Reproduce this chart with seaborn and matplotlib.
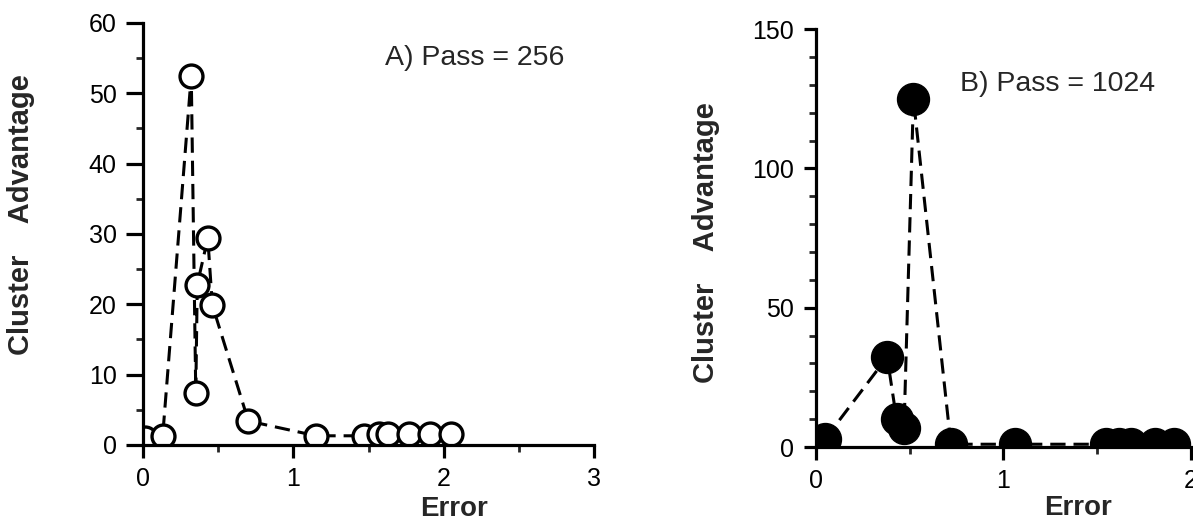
import matplotlib
matplotlib.use("Agg")
import matplotlib.pyplot as plt
import seaborn as sns
import pandas as pd
from matplotlib.ticker import MultipleLocator

# Panel A data (Pass = 256), open circles
err_a = [0.01, 0.13, 0.32, 0.35, 0.36, 0.43, 0.46, 0.70, 1.15, 1.47, 1.57, 1.63, 1.77, 1.91, 2.05]
adv_a = [1.0, 1.3, 52.5, 7.4, 22.8, 29.4, 19.9, 3.4, 1.3, 1.3, 1.5, 1.5, 1.5, 1.5, 1.5]

# Panel B data (Pass = 1024), filled circles
err_b = [0.05, 0.38, 0.43, 0.47, 0.52, 0.72, 1.06, 1.55, 1.62, 1.68, 1.81, 1.91]
adv_b = [3.0, 32.3, 10.0, 7.0, 125.0, 1.0, 1.0, 1.0, 1.0, 1.0, 1.0, 1.0]

title_a = "A) Pass = 256"
title_b = "B) Pass = 1024"
xlabel = "Error"
ylabel = "Cluster    Advantage"

sns.set_style("ticks")
plt.rcParams['font.family'] = ['Liberation Sans', 'DejaVu Sans']

fig = plt.figure(figsize=(11.93, 5.21), dpi=100)
ax1 = fig.add_axes([0.120, 0.146, 0.378, 0.810])
ax2 = fig.add_axes([0.684, 0.142, 0.314, 0.802])

dash = (0, (5, 2.6))
df_a = pd.DataFrame({"Error": err_a, "Adv": adv_a})
df_b = pd.DataFrame({"Error": err_b, "Adv": adv_b})

sns.lineplot(data=df_a, x="Error", y="Adv", ax=ax1, sort=False, estimator=None,
             color="black", linewidth=2.2, linestyle=dash, marker="o",
             markersize=16.5, markerfacecolor="white", markeredgecolor="black",
             markeredgewidth=2.4)
sns.lineplot(data=df_b, x="Error", y="Adv", ax=ax2, sort=False, estimator=None,
             color="black", linewidth=2.2, linestyle=dash, marker="o",
             markersize=23, markerfacecolor="black", markeredgecolor="black",
             markeredgewidth=1.0)

for ax in (ax1, ax2):
    for ln in ax.lines:
        ln.set_clip_on(True)
        ln.set_clip_path(ax.patch)

ax1.set_xlim(0, 3)
ax1.set_ylim(0, 60)
ax1.xaxis.set_major_locator(MultipleLocator(1))
ax1.xaxis.set_minor_locator(MultipleLocator(0.5))
ax1.yaxis.set_major_locator(MultipleLocator(10))
ax1.yaxis.set_minor_locator(MultipleLocator(5))

ax2.set_xlim(0, 2)
ax2.set_ylim(0, 150)
ax2.xaxis.set_major_locator(MultipleLocator(1))
ax2.xaxis.set_minor_locator(MultipleLocator(0.5))
ax2.yaxis.set_major_locator(MultipleLocator(50))
ax2.yaxis.set_minor_locator(MultipleLocator(10))

for ax in (ax1, ax2):
    for s in ("top", "right"):
        ax.spines[s].set_visible(False)
    for s in ("left", "bottom"):
        ax.spines[s].set_linewidth(2.3)
        ax.spines[s].set_color("black")
    ax.tick_params(which="major", direction="out", width=2.3,
                   labelsize=18, colors="black")
    ax.tick_params(axis="x", which="major", length=9, pad=7)
    ax.tick_params(which="minor", direction="out", length=5, width=2.0)
    ax.set_xlabel(xlabel, fontsize=20, fontweight="bold")
    ax.set_ylabel(ylabel, fontsize=21, fontweight="bold")
    ax.set_facecolor("white")

ax1.tick_params(axis="y", which="major", length=12, pad=7)
ax2.tick_params(axis="y", which="major", length=9, pad=7)

ax1.xaxis.set_label_coords(0.69, -0.12)
ax2.xaxis.set_label_coords(0.70, -0.115)
ax1.yaxis.set_label_coords(-0.24, 0.545)
ax2.yaxis.set_label_coords(-0.257, 0.49)

ax1.text(0.537, 0.917, title_a, transform=ax1.transAxes, fontsize=20.5,
         ha="left", va="center")
ax2.text(0.385, 0.868, title_b, transform=ax2.transAxes, fontsize=20.5,
         ha="left", va="center")

fig.savefig("out.png", dpi=100, facecolor="white")
